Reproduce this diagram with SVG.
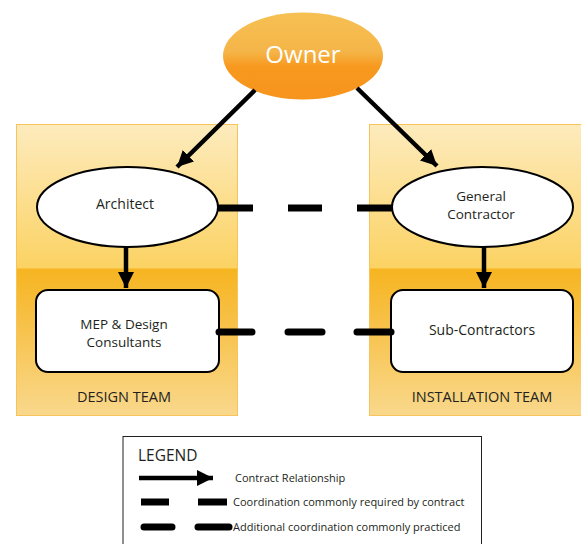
<svg xmlns="http://www.w3.org/2000/svg" width="581" height="544" viewBox="0 0 581 544">
<defs>
<linearGradient id="gTop" x1="0" y1="0" x2="0" y2="1">
<stop offset="0" stop-color="#fdebbd"/>
<stop offset="1" stop-color="#fbd262"/>
</linearGradient>
<linearGradient id="gBot" x1="0" y1="0" x2="0" y2="1">
<stop offset="0" stop-color="#f6b420"/>
<stop offset="1" stop-color="#f9d88c"/>
</linearGradient>
<linearGradient id="gOwner" x1="0" y1="0" x2="0" y2="1">
<stop offset="0" stop-color="#f6c053"/>
<stop offset="0.45" stop-color="#f5b548"/>
<stop offset="0.62" stop-color="#f7991f"/>
<stop offset="1" stop-color="#f7941d"/>
</linearGradient>
<marker id="arr" markerUnits="userSpaceOnUse" markerWidth="18" markerHeight="18" viewBox="0 0 18 18" refX="16" refY="9" orient="auto">
<path d="M0,1 L16,9 L0,17 Z" fill="#000"/>
</marker>
<style>
.lbl{font-family:"Open Sans","Lato","DejaVu Sans",sans-serif;fill:#231f20;text-anchor:middle}
.nd{fill:#fff;stroke:#000;stroke-width:2}
.ar{stroke:#000;stroke-width:4.5;fill:none;marker-end:url(#arr)}
.req{stroke:#000;stroke-width:7;stroke-linecap:butt}
.prc{stroke:#000;stroke-width:7;stroke-linecap:round}
.lg{font-family:"Open Sans","Lato","DejaVu Sans",sans-serif;fill:#231f20;font-size:11px}
</style>
</defs>
<rect width="581" height="544" fill="#fff"/>
<g id="design-team">
<rect x="16.5" y="124.5" width="221" height="145" fill="url(#gTop)"/>
<rect x="16.5" y="268.5" width="221" height="147" fill="url(#gBot)"/>
<rect x="16.5" y="124.5" width="221" height="291" fill="none" stroke="#f9c35c" stroke-width="1"/>
<text class="lbl" x="124" y="402" font-size="14.5">DESIGN TEAM</text>
</g>
<g id="installation-team">
<rect x="369.5" y="124.5" width="221" height="145" fill="url(#gTop)"/>
<rect x="369.5" y="268.5" width="221" height="147" fill="url(#gBot)"/>
<rect x="369.5" y="124.5" width="221" height="291" fill="none" stroke="#f9c35c" stroke-width="1"/>
<text class="lbl" x="482" y="402" font-size="14.5">INSTALLATION TEAM</text>
</g>
<g id="owner">
<ellipse cx="303" cy="56" rx="80" ry="43.5" fill="url(#gOwner)"/>
<text class="lbl" x="303" y="63" font-size="24" style="fill:#fff">Owner</text>
</g>
<g id="architect">
<ellipse class="nd" cx="127.5" cy="207" rx="90.5" ry="40"/>
<text class="lbl" x="125" y="209" font-size="14">Architect</text>
</g>
<g id="general-contractor">
<ellipse class="nd" cx="482.5" cy="207" rx="90.5" ry="40"/>
<text class="lbl" x="481" y="201" font-size="13.5">General</text>
<text class="lbl" x="481" y="219" font-size="13.5">Contractor</text>
</g>
<g id="mep">
<rect class="nd" x="36" y="290" width="183" height="82" rx="12"/>
<text class="lbl" x="124" y="329" font-size="13.5">MEP &amp; Design</text>
<text class="lbl" x="124" y="347" font-size="13.5">Consultants</text>
</g>
<g id="sub-contractors">
<rect class="nd" x="391" y="290" width="182" height="82" rx="12"/>
<text class="lbl" x="482" y="335" font-size="14">Sub-Contractors</text>
</g>
<g id="connectors">
<line class="ar" x1="255" y1="90" x2="177" y2="167"/>
<line class="ar" x1="357" y1="88" x2="437" y2="166"/>
<line class="ar" x1="126" y1="247" x2="126" y2="288"/>
<line class="ar" x1="484" y1="247" x2="484" y2="288"/>
<line class="req" x1="218" y1="208" x2="253" y2="208"/>
<line class="req" x1="288" y1="208" x2="322" y2="208"/>
<line class="req" x1="357" y1="208" x2="392" y2="208"/>
<line class="prc" x1="219" y1="332" x2="252" y2="332"/>
<line class="prc" x1="288" y1="332" x2="322" y2="332"/>
<line class="prc" x1="357" y1="332" x2="391" y2="332"/>
</g>
<g id="legend">
<rect x="123" y="436.5" width="358.5" height="120" fill="#fff" stroke="#231f20" stroke-width="1"/>
<text x="138" y="461" font-family="'Open Sans', Lato, sans-serif" font-size="15.5" fill="#231f20">LEGEND</text>
<line class="ar" x1="139" y1="478" x2="213" y2="478"/>
<text class="lg" x="235" y="482">Contract Relationship</text>
<line class="req" x1="141" y1="502" x2="169" y2="502"/>
<line class="req" x1="198" y1="502" x2="227" y2="502"/>
<text class="lg" x="233" y="506">Coordination commonly required by contract</text>
<line class="prc" x1="144" y1="527" x2="172" y2="527"/>
<line class="prc" x1="198" y1="527" x2="229" y2="527"/>
<text class="lg" x="233" y="531">Additional coordination commonly practiced</text>
</g>
</svg>
